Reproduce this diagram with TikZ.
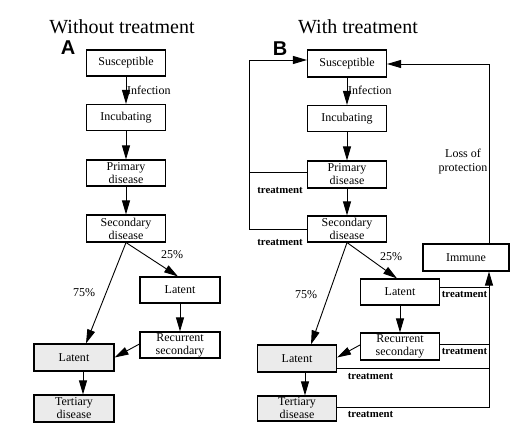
\documentclass[tikz,border=0pt]{standalone}
\usepackage{fontspec}
\setmainfont{Liberation Serif}
\newfontfamily\labfont{Liberation Sans}
\usetikzlibrary{arrows.meta,calc}
\newcommand\boxfont{\fontsize{12}{13}\selectfont}
\newcommand\titfont{\fontsize{20}{22}\selectfont}
\newcommand\tfont{\fontsize{10.8}{12}\selectfont\bfseries}
\tikzset{
  box/.style={draw, line width=1.1pt, minimum width=79pt, minimum height=26pt, inner sep=0pt, align=center, font=\boxfont},
  shaded/.style={fill=black!8},
  arr/.style={-{Triangle[length=14pt,width=8pt]}, line width=0.9pt},
  ln/.style={line width=0.9pt},
  lbl/.style={font=\boxfont, inner sep=0pt},
  tlbl/.style={font=\tfont, inner sep=0pt},
  tit/.style={font=\titfont, inner sep=0pt},
  panel/.style={font=\labfont\bfseries\fontsize{20}{20}\selectfont, inner sep=0pt}
}
\begin{document}
\begin{tikzpicture}[x=1pt,y=-1pt]
\useasboundingbox (0,0) rectangle (510,430);
% titles
\node[tit] (TA1) at (122,27) {Without treatment};
\node[tit] (TB1) at (358,27) {With treatment};
\node[panel] (PA1) at (68,48) {A};
\node[panel] (PB1) at (280,49) {B};
% ---------- Panel A ----------
\node[box] (SA) at (126,63) {Susceptible};
\node[box] (IA) at (126,117.5) {Incubating};
\node[box] (PA) at (126,173) {Primary\\disease};
\node[box, minimum height=27pt] (DA) at (126,228.5) {Secondary\\disease};
\node[box, minimum width=80pt] (LRA) at (180,290) {Latent};
\node[box, minimum width=80pt] (RA) at (180,345) {Recurrent\\secondary};
\node[box, shaded, minimum width=80pt, minimum height=27pt] (LLA) at (74,357.5) {Latent};
\node[box, shaded, minimum width=80pt, minimum height=27pt] (TA) at (74,408.5) {Tertiary\\disease};
\draw[arr] (SA) -- (IA);
\draw[arr] (IA) -- (PA);
\draw[arr] (PA) -- (DA);
\draw[arr] (DA.south) -- ($(LRA.north)+(-2,0)$);
\draw[arr] (DA.south) -- ($(LLA.north)+(12,0)$);
\draw[arr] (LRA) -- (RA);
\draw[arr] ($(RA.west)+(0,-1)$) -- (LLA.east);
\draw[arr] ($(LLA.south)+(9,0)$) -- ($(TA.north)+(9,0)$);
\node[lbl, anchor=west] (INA) at (127,90) {Infection};
\node[lbl] (P25A) at (172,255) {25\%};
\node[lbl] (P75A) at (84,293) {75\%};
% ---------- Panel B ----------
\node[box, minimum height=27pt] (SB) at (347,63.5) {Susceptible};
\node[box] (IB) at (347,118.5) {Incubating};
\node[box, minimum height=27pt] (PB) at (347,174.5) {Primary\\disease};
\node[box] (DB) at (347,229) {Secondary\\disease};
\node[box, minimum width=86pt, minimum height=27pt] (IM) at (466,257.5) {Immune};
\node[box] (LRB) at (400,292) {Latent};
\node[box, minimum height=27pt] (RB) at (400,346.5) {Recurrent\\secondary};
\node[box, shaded, minimum height=27pt] (LLB) at (297,358.5) {Latent};
\node[box, shaded, minimum height=25pt] (TB) at (297,408.5) {Tertiary\\disease};
\draw[arr] (SB) -- (IB);
\draw[arr] (IB) -- (PB);
\draw[arr] (PB) -- (DB);
\draw[arr] (DB.south) -- ($(LRB.north)+(-3,0)$);
\draw[arr] (DB.south) -- ($(LLB.north)+(14,0)$);
\draw[arr] (LRB) -- (RB);
\draw[arr] ($(RB.west)+(0,-1.5)$) -- ($(LLB.east)+(0,-1)$);
\draw[arr] ($(LLB.south)+(8,0)$) -- ($(TB.north)+(8,0)$);
\node[lbl, anchor=west] (INB) at (348,90.5) {Infection};
\node[lbl] (P25B) at (391,257) {25\%};
\node[lbl] (P75B) at (306,295) {75\%};
% left treatment loop
\coordinate (L1) at (249,60);
\coordinate (L2) at (249,172);
\coordinate (L3) at (249,229);
\draw[ln] (PB.west |- L2) -- (L2);
\draw[ln] (DB.west |- L3) -- (L3) -- (L1);
\draw[arr] (L1) -- (SB.west |- L1);
\node[tlbl] (TR1) at (280,191) {treatment};
\node[tlbl] (TR2) at (280,243) {treatment};
% loss of protection
\coordinate (R1) at (489,64);
\draw[arr] (IM.north -| R1) -- (R1) -- (SB.east |- R1);
\node[lbl, align=center, font=\fontsize{12}{14}\selectfont] (LOP) at (463,162) {Loss of\\protection};
% right treatment collector
\coordinate (B1) at (489,287);
\coordinate (B2) at (489,344);
\coordinate (B3) at (489,368);
\coordinate (R2) at (489,407);
\draw[ln] (LRB.east |- B1) -- (B1);
\draw[ln] (RB.east |- B2) -- (B2);
\draw[ln] (LLB.east |- B3) -- (B3);
\draw[arr] (TB.east |- R2) -- (R2) -- (IM.south -| R2);
\node[tlbl] (TR3) at (464.5,295) {treatment};
\node[tlbl] (TR4) at (464.5,352) {treatment};
\node[tlbl] (TR5) at (370.5,377) {treatment};
\node[tlbl] (TR6) at (370.5,415) {treatment};
\end{tikzpicture}
\end{document}
